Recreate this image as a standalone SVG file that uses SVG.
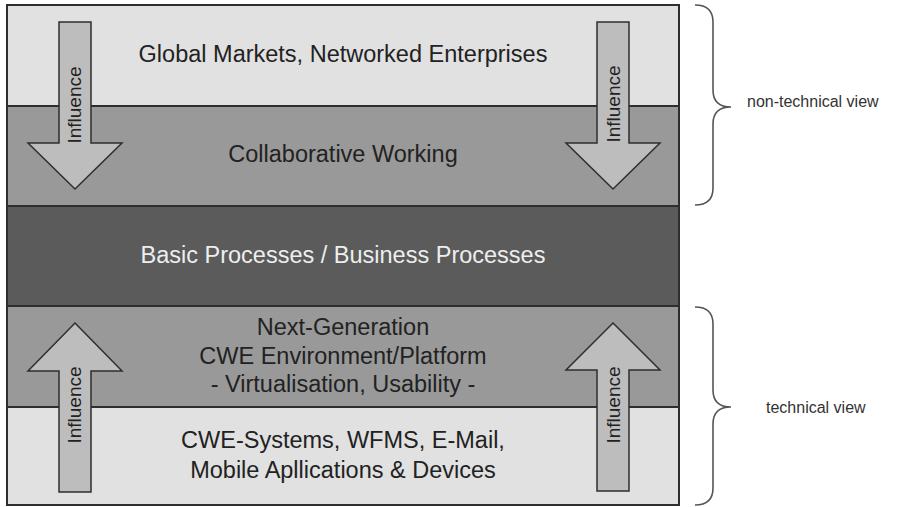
<svg xmlns="http://www.w3.org/2000/svg" width="908" height="507" viewBox="0 0 908 507">
<style>
.band{stroke:#2e2e2e;stroke-width:2}
.light{fill:#e1e1e1}
.mid{fill:#999999}
.dark{fill:#5b5b5b}
.arrow{fill:#bdbdbd;stroke:#2e2e2e;stroke-width:1.5;stroke-linejoin:miter}
.t{font-family:"Liberation Sans",Arial,sans-serif;font-size:23.5px;fill:#222;text-anchor:middle}
.tw{fill:#eeeeee}
.inf{font-family:"Liberation Sans",Arial,sans-serif;font-size:19px;fill:#222;text-anchor:middle}
.lbl{font-family:"Liberation Sans",Arial,sans-serif;font-size:16px;fill:#333}
.brace{fill:none;stroke:#555;stroke-width:1.6}
</style>
<rect width="908" height="507" fill="#ffffff"/>
<g id="band-global-markets">
<rect class="band light" x="7" y="5" width="672" height="101"/>
<text class="t" x="343" y="62">Global Markets, Networked Enterprises</text>
</g>
<g id="band-collaborative-working">
<rect class="band mid" x="7" y="106" width="672" height="100"/>
<text class="t" x="343" y="162">Collaborative Working</text>
</g>
<g id="band-basic-processes">
<rect class="band dark" x="7" y="206" width="672" height="100"/>
<text class="t tw" x="343" y="263">Basic Processes / Business Processes</text>
</g>
<g id="band-next-generation">
<rect class="band mid" x="7" y="306" width="672" height="101"/>
<text class="t" x="343" y="335">Next-Generation</text>
<text class="t" x="343" y="364">CWE Environment/Platform</text>
<text class="t" x="343" y="392">- Virtualisation, Usability -</text>
</g>
<g id="band-cwe-systems">
<rect class="band light" x="7" y="407" width="672" height="98"/>
<text class="t" x="343" y="448">CWE-Systems, WFMS, E-Mail,</text>
<text class="t" x="343" y="478">Mobile Apllications &amp; Devices</text>
</g>
<g id="connectors">
<g id="arrow-top-left">
<polygon class="arrow" points="59,22 91,22 91,143 122,143 75,189 28,143 59,143"/>
<text class="inf" transform="translate(81,105) rotate(-90)">Influence</text>
</g>
<g id="arrow-top-right">
<polygon class="arrow" points="597,22 629,22 629,143 660,143 613,189 566,143 597,143"/>
<text class="inf" transform="translate(620,104) rotate(-90)">Influence</text>
</g>
<g id="arrow-bottom-left">
<polygon class="arrow" points="75,323 122,371 91,371 91,492 59,492 59,371 28,371"/>
<text class="inf" transform="translate(81,405) rotate(-90)">Influence</text>
</g>
<g id="arrow-bottom-right">
<polygon class="arrow" points="613,323 660,370 629,370 629,491 597,491 597,370 566,370"/>
<text class="inf" transform="translate(620,405) rotate(-90)">Influence</text>
</g>
</g>
<g id="brace-non-technical">
<path class="brace" d="M695,5 Q713,5 713,22 L713,90 Q713,107 731,107 Q713,107 713,124 L713,188 Q713,205 695,205"/>
<text class="lbl" x="747" y="107">non-technical view</text>
</g>
<g id="brace-technical">
<path class="brace" d="M695,307 Q713,307 713,324 L713,390 Q713,407 731,407 Q713,407 713,424 L713,488 Q713,505 695,505"/>
<text class="lbl" x="766" y="413">technical view</text>
</g>
</svg>
